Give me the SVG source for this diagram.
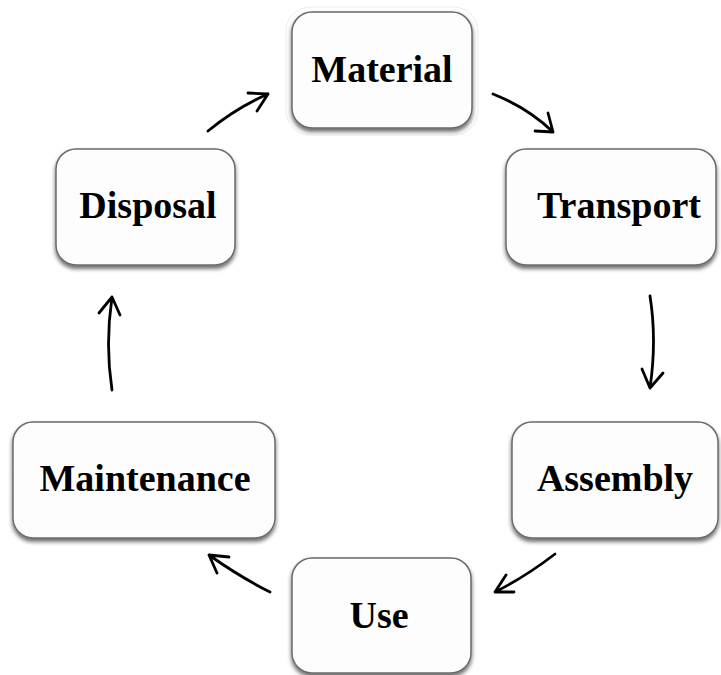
<svg xmlns="http://www.w3.org/2000/svg" width="721" height="675" viewBox="0 0 721 675">
<defs>
<filter id="sh" x="-10%" y="-10%" width="120%" height="125%">
<feGaussianBlur in="SourceAlpha" stdDeviation="2"/>
<feOffset dx="0" dy="3" result="b"/>
<feComponentTransfer><feFuncA type="linear" slope="0.6"/></feComponentTransfer>
<feMerge><feMergeNode/><feMergeNode in="SourceGraphic"/></feMerge>
</filter>
<style>
.box{fill:#fdfdfd;stroke:#6a6a6a;stroke-width:1.5;filter:url(#sh)}
.lbl{font-family:"Liberation Serif","Times New Roman",serif;font-weight:bold;font-size:38px;fill:#000;text-anchor:middle}
.arr{fill:none;stroke:#000;stroke-width:2.8;stroke-linecap:round;stroke-linejoin:round}
</style>
</defs>
<rect width="721" height="675" fill="#fff"/>
<g id="material">
<rect x="286" y="7" width="192" height="128" rx="24" fill="none" stroke="#ececec" stroke-width="1"/>
<rect class="box" x="292" y="12" width="180" height="116" rx="20"/>
<text class="lbl" x="382" y="82">Material</text>
</g>
<g id="transport">
<rect class="box" x="506" y="149" width="210" height="116" rx="20"/>
<text class="lbl" x="619" y="218">Transport</text>
</g>
<g id="assembly">
<rect class="box" x="512" y="422" width="206" height="116" rx="20"/>
<text class="lbl" x="615" y="491">Assembly</text>
</g>
<g id="use">
<rect class="box" x="292" y="558" width="179" height="115" rx="20"/>
<text class="lbl" x="379" y="628">Use</text>
</g>
<g id="maintenance">
<rect class="box" x="13" y="422" width="262" height="116" rx="20"/>
<text class="lbl" x="145" y="491">Maintenance</text>
</g>
<g id="disposal">
<rect class="box" x="56" y="149" width="179" height="116" rx="20"/>
<text class="lbl" x="148" y="218">Disposal</text>
</g>
<g id="connectors">
<path class="arr" d="M208,131 Q236,108 268,94 M248,93 L268,94 L257,111"/>
<path class="arr" d="M493,94 Q528,108 553,132 M535,131 L553,132 L548,113"/>
<path class="arr" d="M650,296 Q657,340 650,388 M642,369 L650,388 L663,373"/>
<path class="arr" d="M555,554 Q525,577 495,592 M514,592 L495,592 L506,575"/>
<path class="arr" d="M270,592 Q240,577 209,555 M217,573 L209,555 L229,557"/>
<path class="arr" d="M112,390 Q105,345 112,297 M99,313 L112,297 L120,315"/>
</g>
</svg>
